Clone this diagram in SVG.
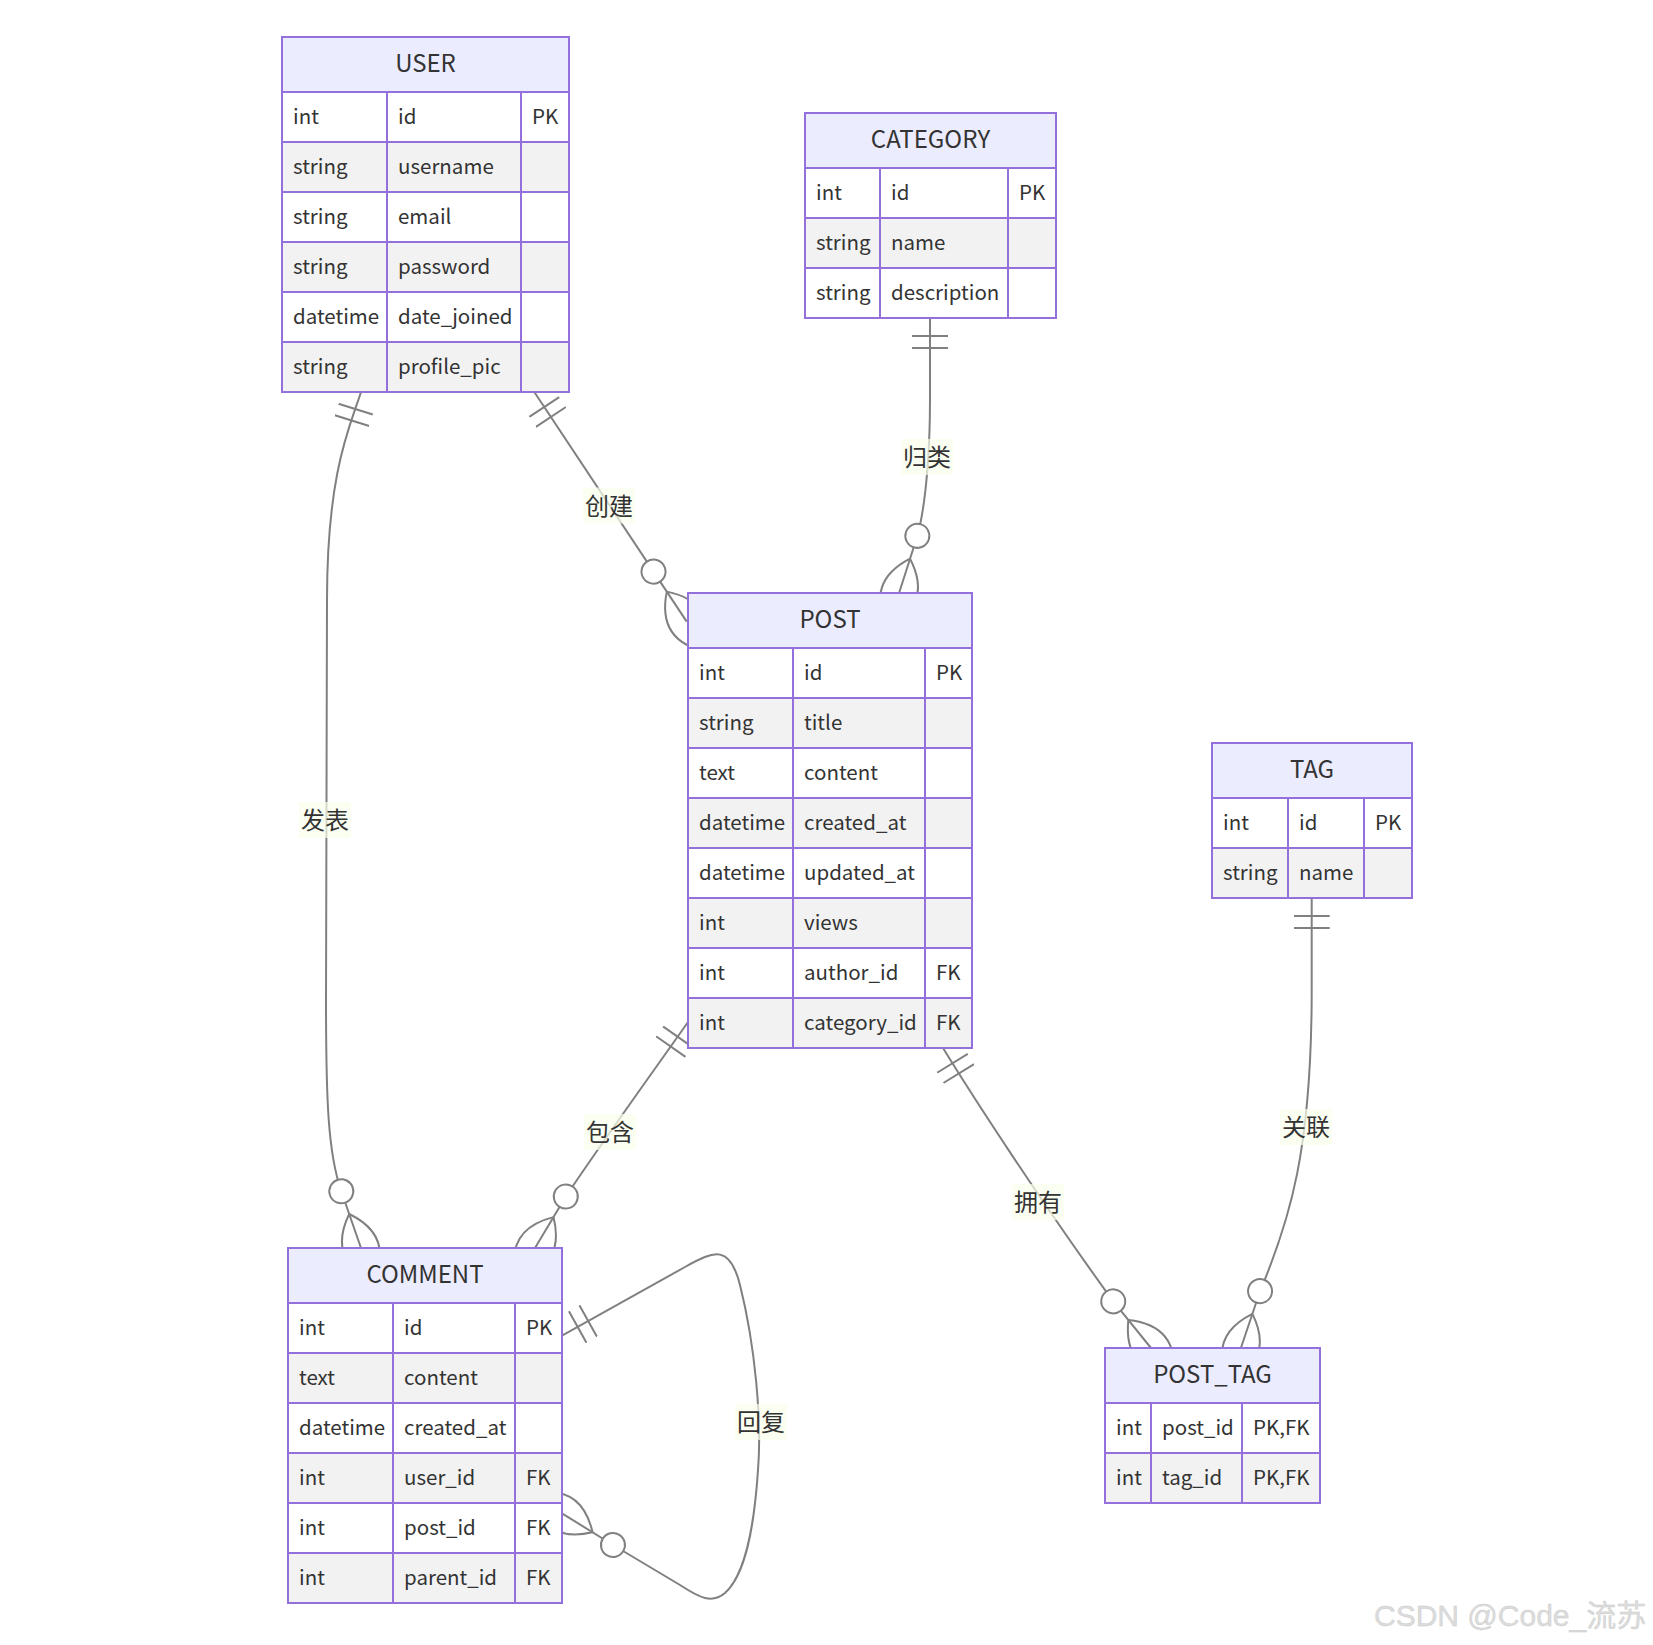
<svg xmlns="http://www.w3.org/2000/svg" width="1653" height="1645" viewBox="0 0 1653 1645">
<style>
.hdr{fill:#ececff;stroke:#9370db;stroke-width:2}
.odd{fill:#ffffff;stroke:#9370db;stroke-width:2}
.even{fill:#f2f2f2;stroke:#9370db;stroke-width:2}
.div{fill:none;stroke:#9370db;stroke-width:2}
.ht{font-family:"Noto Sans CJK SC","Noto Sans",sans-serif;font-size:24px;fill:#333;text-anchor:middle}
.at{font-family:"Noto Sans CJK SC","Noto Sans",sans-serif;font-size:20.5px;fill:#333}
.rel{fill:none;stroke:gray;stroke-width:2;marker-start:url(#oneStart);marker-end:url(#manyEnd)}
.lb{fill:#f9ffec;opacity:0.7}
.lt{font-family:"Noto Sans CJK SC",sans-serif;font-size:24px;fill:#333;text-anchor:middle}
.wm{font-family:"Liberation Sans","Noto Sans CJK SC",sans-serif;font-size:30px;fill:#dcdcdc;stroke:#cacaca;stroke-width:0.4}
</style>
<defs>
<marker id="oneStart" markerUnits="userSpaceOnUse" viewBox="0 0 18 18" refX="0" refY="9" markerWidth="36" markerHeight="36" orient="auto">
<path d="M9,0 L9,18 M15,0 L15,18" stroke="gray" stroke-width="1" fill="none"/>
</marker>
<marker id="manyEnd" markerUnits="userSpaceOnUse" viewBox="0 0 57 36" refX="39" refY="18" markerWidth="114" markerHeight="72" orient="auto">
<circle cx="9" cy="18" r="6" stroke="gray" stroke-width="1" fill="white"/>
<path d="M21,18 Q39,0 57,18 Q39,36 21,18" stroke="gray" stroke-width="1" fill="none"/>
</marker>
</defs>
<rect width="1653" height="1645" fill="#ffffff"/>

<g id="connectors">
<path class="rel" d="M534.3,392 L686.7,621.6"/>
<path class="rel" d="M930,318 L930,400 C930,450 926,505 917.3,536 L899.1,593"/>
<path class="rel" d="M361,392 C351,424 327,470 327,600 L326,1000 C326,1100 328,1153 341.2,1191 L361,1248"/>
<path class="rel" d="M688,1022 C660,1062 600,1145 565.5,1197 L535,1248"/>
<path class="rel" d="M943,1048 C975,1100 1040,1200 1112.7,1300.7 L1151,1348"/>
<path class="rel" d="M1311.7,898 L1311.7,990 C1311.7,1150 1290,1220 1260,1291.3 L1240.9,1348"/>
<path class="rel" d="M562,1335.7 L685,1267 C715,1250 730,1245 740,1285 C755,1345 762,1420 758,1470 C754,1530 745,1575 725,1593 C712,1604 700,1598 680,1585 L613,1545 L562,1513.3"/>
<rect class="lb" x="583" y="487.5" width="52" height="36"/>
<text class="lt" x="609" y="514.5">创建</text>
<rect class="lb" x="901" y="439" width="52" height="36"/>
<text class="lt" x="927" y="466">归类</text>
<rect class="lb" x="299" y="802" width="52" height="36"/>
<text class="lt" x="325" y="829">发表</text>
<rect class="lb" x="584" y="1114" width="52" height="36"/>
<text class="lt" x="610" y="1141">包含</text>
<rect class="lb" x="1012" y="1184" width="52" height="36"/>
<text class="lt" x="1038" y="1211">拥有</text>
<rect class="lb" x="1280" y="1109" width="52" height="36"/>
<text class="lt" x="1306" y="1136">关联</text>
<rect class="lb" x="735" y="1404" width="52" height="36"/>
<text class="lt" x="761" y="1431">回复</text>
</g>

<g id="USER">
<rect class="hdr" x="282" y="37" width="287" height="55"/>
<text class="ht" x="425.5" y="72">USER</text>
<rect class="odd" x="282" y="92" width="287" height="50"/>
<rect class="even" x="282" y="142" width="287" height="50"/>
<rect class="odd" x="282" y="192" width="287" height="50"/>
<rect class="even" x="282" y="242" width="287" height="50"/>
<rect class="odd" x="282" y="292" width="287" height="50"/>
<rect class="even" x="282" y="342" width="287" height="50"/>
<path class="div" d="M387,92V392M521,92V392"/>
<text class="at" x="293" y="124">int</text><text class="at" x="398" y="124">id</text><text class="at" x="532" y="124">PK</text>
<text class="at" x="293" y="174">string</text><text class="at" x="398" y="174">username</text>
<text class="at" x="293" y="224">string</text><text class="at" x="398" y="224">email</text>
<text class="at" x="293" y="274">string</text><text class="at" x="398" y="274">password</text>
<text class="at" x="293" y="324">datetime</text><text class="at" x="398" y="324">date_joined</text>
<text class="at" x="293" y="374">string</text><text class="at" x="398" y="374">profile_pic</text>
</g>

<g id="CATEGORY">
<rect class="hdr" x="805" y="113" width="251" height="55"/>
<text class="ht" x="930.5" y="148">CATEGORY</text>
<rect class="odd" x="805" y="168" width="251" height="50"/>
<rect class="even" x="805" y="218" width="251" height="50"/>
<rect class="odd" x="805" y="268" width="251" height="50"/>
<path class="div" d="M880,168V318M1008,168V318"/>
<text class="at" x="816" y="200">int</text><text class="at" x="891" y="200">id</text><text class="at" x="1019" y="200">PK</text>
<text class="at" x="816" y="250">string</text><text class="at" x="891" y="250">name</text>
<text class="at" x="816" y="300">string</text><text class="at" x="891" y="300">description</text>
</g>

<g id="POST">
<rect class="hdr" x="688" y="593" width="284" height="55"/>
<text class="ht" x="830" y="628">POST</text>
<rect class="odd" x="688" y="648" width="284" height="50"/>
<rect class="even" x="688" y="698" width="284" height="50"/>
<rect class="odd" x="688" y="748" width="284" height="50"/>
<rect class="even" x="688" y="798" width="284" height="50"/>
<rect class="odd" x="688" y="848" width="284" height="50"/>
<rect class="even" x="688" y="898" width="284" height="50"/>
<rect class="odd" x="688" y="948" width="284" height="50"/>
<rect class="even" x="688" y="998" width="284" height="50"/>
<path class="div" d="M793,648V1048M925,648V1048"/>
<text class="at" x="699" y="680">int</text><text class="at" x="804" y="680">id</text><text class="at" x="936" y="680">PK</text>
<text class="at" x="699" y="730">string</text><text class="at" x="804" y="730">title</text>
<text class="at" x="699" y="780">text</text><text class="at" x="804" y="780">content</text>
<text class="at" x="699" y="830">datetime</text><text class="at" x="804" y="830">created_at</text>
<text class="at" x="699" y="880">datetime</text><text class="at" x="804" y="880">updated_at</text>
<text class="at" x="699" y="930">int</text><text class="at" x="804" y="930">views</text>
<text class="at" x="699" y="980">int</text><text class="at" x="804" y="980">author_id</text><text class="at" x="936" y="980">FK</text>
<text class="at" x="699" y="1030">int</text><text class="at" x="804" y="1030">category_id</text><text class="at" x="936" y="1030">FK</text>
</g>

<g id="TAG">
<rect class="hdr" x="1212" y="743" width="200" height="55"/>
<text class="ht" x="1312" y="778">TAG</text>
<rect class="odd" x="1212" y="798" width="200" height="50"/>
<rect class="even" x="1212" y="848" width="200" height="50"/>
<path class="div" d="M1288,798V898M1364,798V898"/>
<text class="at" x="1223" y="830">int</text><text class="at" x="1299" y="830">id</text><text class="at" x="1375" y="830">PK</text>
<text class="at" x="1223" y="880">string</text><text class="at" x="1299" y="880">name</text>
</g>

<g id="COMMENT">
<rect class="hdr" x="288" y="1248" width="274" height="55"/>
<text class="ht" x="425" y="1283">COMMENT</text>
<rect class="odd" x="288" y="1303" width="274" height="50"/>
<rect class="even" x="288" y="1353" width="274" height="50"/>
<rect class="odd" x="288" y="1403" width="274" height="50"/>
<rect class="even" x="288" y="1453" width="274" height="50"/>
<rect class="odd" x="288" y="1503" width="274" height="50"/>
<rect class="even" x="288" y="1553" width="274" height="50"/>
<path class="div" d="M393,1303V1603M515,1303V1603"/>
<text class="at" x="299" y="1335">int</text><text class="at" x="404" y="1335">id</text><text class="at" x="526" y="1335">PK</text>
<text class="at" x="299" y="1385">text</text><text class="at" x="404" y="1385">content</text>
<text class="at" x="299" y="1435">datetime</text><text class="at" x="404" y="1435">created_at</text>
<text class="at" x="299" y="1485">int</text><text class="at" x="404" y="1485">user_id</text><text class="at" x="526" y="1485">FK</text>
<text class="at" x="299" y="1535">int</text><text class="at" x="404" y="1535">post_id</text><text class="at" x="526" y="1535">FK</text>
<text class="at" x="299" y="1585">int</text><text class="at" x="404" y="1585">parent_id</text><text class="at" x="526" y="1585">FK</text>
</g>

<g id="POST_TAG">
<rect class="hdr" x="1105" y="1348" width="215" height="55"/>
<text class="ht" x="1212.5" y="1383">POST_TAG</text>
<rect class="odd" x="1105" y="1403" width="215" height="50"/>
<rect class="even" x="1105" y="1453" width="215" height="50"/>
<path class="div" d="M1151,1403V1503M1242,1403V1503"/>
<text class="at" x="1116" y="1435">int</text><text class="at" x="1162" y="1435">post_id</text><text class="at" x="1253" y="1435">PK,FK</text>
<text class="at" x="1116" y="1485">int</text><text class="at" x="1162" y="1485">tag_id</text><text class="at" x="1253" y="1485">PK,FK</text>
</g>

<text class="wm" x="1374" y="1626">CSDN @Code_流苏</text>
</svg>
